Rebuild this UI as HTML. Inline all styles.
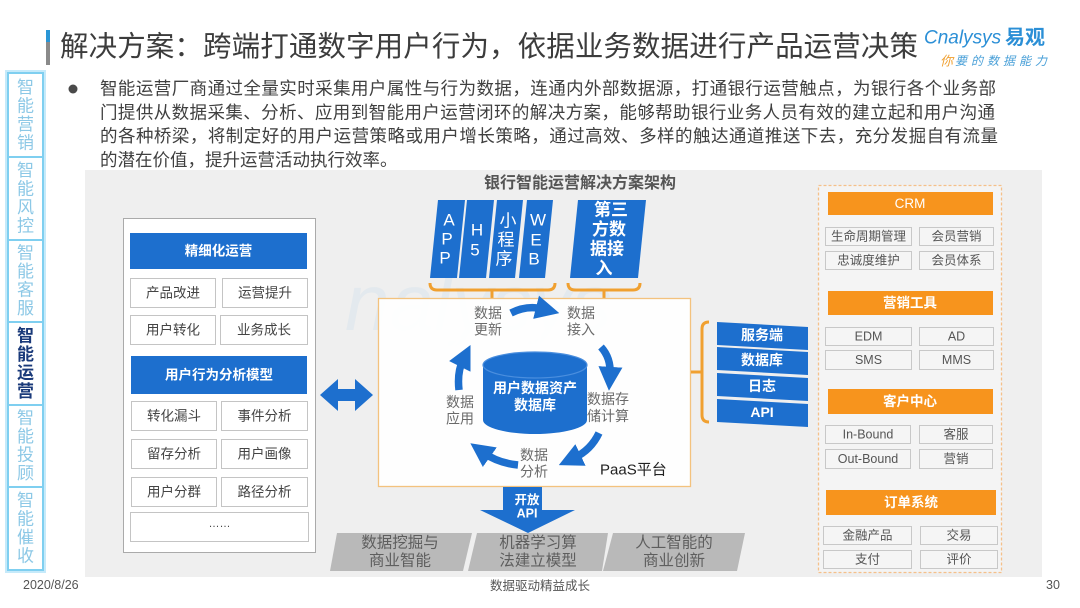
<!DOCTYPE html>
<html><head><meta charset="utf-8">
<style>
html,body{margin:0;padding:0;background:#fff;width:1080px;height:608px;overflow:hidden}
svg{display:block}
text{font-family:"Liberation Sans","Noto Sans CJK SC",sans-serif}
</style></head><body>
<svg width="1080" height="608" viewBox="0 0 1080 608" xmlns="http://www.w3.org/2000/svg">
<defs>
<marker id="ah" viewBox="0 0 10 10" refX="3" refY="5" markerWidth="3.2" markerHeight="3.2" orient="auto" markerUnits="strokeWidth"><path d="M0,0 L10,5 L0,10 z" fill="#1d6fce"/></marker>
</defs>

<!-- Title -->
<rect x="46" y="30" width="4" height="12" fill="#2a96d6"/>
<rect x="46" y="42" width="4" height="23" fill="#8a8a8a"/>
<text x="60" y="47" dominant-baseline="central" font-size="28.5" fill="#3c3c3c" textLength="858" lengthAdjust="spacing">解决方案：跨端打通数字用户行为，依据业务数据进行产品运营决策</text>

<!-- Logo -->
<text x="924" y="38" dominant-baseline="central" font-size="19" font-style="italic" fill="#2b8fd6">Cnalysys</text>
<text x="1005" y="38" dominant-baseline="central" font-size="20" font-weight="bold" fill="#2b8fd6">易观</text>
<text x="940" y="61" dominant-baseline="central" font-size="13" font-style="italic" fill="#f0a030">你</text>
<text x="955" y="61" dominant-baseline="central" font-size="12" font-style="italic" fill="#4aa0d8" textLength="92" lengthAdjust="spacing">要的数据能力</text>

<!-- Paragraph -->
<circle cx="73" cy="89" r="4.5" fill="#4a4a4a"/>
<g font-size="17.5" fill="#404040">
<text x="100" y="88.5" dominant-baseline="central" textLength="896" lengthAdjust="spacing">智能运营厂商通过全量实时采集用户属性与行为数据，连通内外部数据源，打通银行运营触点，为银行各个业务部</text>
<text x="100" y="112.3" dominant-baseline="central" textLength="895" lengthAdjust="spacing">门提供从数据采集、分析、应用到智能用户运营闭环的解决方案，能够帮助银行业务人员有效的建立起和用户沟通</text>
<text x="100" y="136.2" dominant-baseline="central" textLength="898" lengthAdjust="spacing">的各种桥梁，将制定好的用户运营策略或用户增长策略，通过高效、多样的触达通道推送下去，充分发掘自有流量</text>
<text x="100" y="160" dominant-baseline="central">的潜在价值，提升运营活动执行效率。</text>
</g>

<!-- Sidebar -->
<g>
<rect x="7" y="72" width="37" height="499" fill="none" stroke="#c6eafa" stroke-width="4"/>
<g fill="#fff" stroke="#7fcff0" stroke-width="2">
<rect x="8" y="73" width="35" height="84"/>
<rect x="8" y="157" width="35" height="83"/>
<rect x="8" y="240" width="35" height="82"/>
<rect x="8" y="322" width="35" height="83"/>
<rect x="8" y="405" width="35" height="82"/>
<rect x="8" y="487" width="35" height="83"/>
</g>
<g font-size="17" text-anchor="middle" fill="#8cc8e6">
<text x="25.5" y="87.5" dominant-baseline="central">智</text><text x="25.5" y="106" dominant-baseline="central">能</text><text x="25.5" y="124.5" dominant-baseline="central">营</text><text x="25.5" y="143" dominant-baseline="central">销</text>
<text x="25.5" y="170.5" dominant-baseline="central">智</text><text x="25.5" y="189" dominant-baseline="central">能</text><text x="25.5" y="207.5" dominant-baseline="central">风</text><text x="25.5" y="226" dominant-baseline="central">控</text>
<text x="25.5" y="253" dominant-baseline="central">智</text><text x="25.5" y="271.5" dominant-baseline="central">能</text><text x="25.5" y="290" dominant-baseline="central">客</text><text x="25.5" y="308.5" dominant-baseline="central">服</text>
<text x="25.5" y="418" dominant-baseline="central">智</text><text x="25.5" y="436.5" dominant-baseline="central">能</text><text x="25.5" y="455" dominant-baseline="central">投</text><text x="25.5" y="473.5" dominant-baseline="central">顾</text>
<text x="25.5" y="500.5" dominant-baseline="central">智</text><text x="25.5" y="519" dominant-baseline="central">能</text><text x="25.5" y="537.5" dominant-baseline="central">催</text><text x="25.5" y="556" dominant-baseline="central">收</text>
</g>
<g font-size="17" text-anchor="middle" fill="#1a3a7a" font-weight="bold">
<text x="25.5" y="336" dominant-baseline="central">智</text><text x="25.5" y="354.5" dominant-baseline="central">能</text><text x="25.5" y="373" dominant-baseline="central">运</text><text x="25.5" y="391.5" dominant-baseline="central">营</text>
</g>
</g>

<!-- Diagram background -->
<rect x="85" y="170" width="957" height="407" fill="#efefef"/>
<!-- faint watermark -->
<text x="345" y="330" font-size="80" font-style="italic" fill="#e3e9ee">nalysys</text>
<text x="440" y="370" font-size="40" font-style="italic" fill="#e6ebef">你的数据能力</text>
<text x="580" y="183.5" dominant-baseline="central" text-anchor="middle" font-size="16" font-weight="bold" fill="#555">银行智能运营解决方案架构</text>

<!-- Left panel -->
<rect x="123.5" y="218.5" width="192" height="334" fill="#fff" stroke="#aaa" stroke-width="1"/>
<rect x="130" y="233" width="177" height="36" fill="#1d6fce"/>
<text x="218.5" y="251" dominant-baseline="central" text-anchor="middle" font-size="13.5" font-weight="bold" fill="#fff">精细化运营</text>
<rect x="131" y="356" width="176" height="38" fill="#1d6fce"/>
<text x="219" y="375" dominant-baseline="central" text-anchor="middle" font-size="13.5" font-weight="bold" fill="#fff">用户行为分析模型</text>
<g fill="#fff" stroke="#c4c4c4" stroke-width="1">
<rect x="130.5" y="278.5" width="85" height="29"/><rect x="222.5" y="278.5" width="85" height="29"/>
<rect x="130.5" y="315.5" width="85" height="29"/><rect x="220.5" y="315.5" width="87" height="29"/>
<rect x="131.5" y="401.5" width="85" height="29"/><rect x="221.5" y="401.5" width="86" height="29"/>
<rect x="131.5" y="439.5" width="85" height="29"/><rect x="221.5" y="439.5" width="86" height="29"/>
<rect x="131.5" y="477.5" width="85" height="29"/><rect x="221.5" y="477.5" width="86" height="29"/>
<rect x="130.5" y="512.5" width="178" height="29"/>
</g>
<g font-size="13.5" fill="#444" text-anchor="middle">
<text x="173" y="293" dominant-baseline="central">产品改进</text><text x="265" y="293" dominant-baseline="central">运营提升</text>
<text x="173" y="330" dominant-baseline="central">用户转化</text><text x="264" y="330" dominant-baseline="central">业务成长</text>
<text x="174" y="416" dominant-baseline="central">转化漏斗</text><text x="264.5" y="416" dominant-baseline="central">事件分析</text>
<text x="174" y="454" dominant-baseline="central">留存分析</text><text x="264.5" y="454" dominant-baseline="central">用户画像</text>
<text x="174" y="492" dominant-baseline="central">用户分群</text><text x="264.5" y="492" dominant-baseline="central">路径分析</text>
<text x="219.5" y="524" dominant-baseline="central" font-size="11">……</text>
</g>

<!-- Double arrow -->
<polygon points="320,395 338,379 338,389 355,389 355,379 373,395 355,411 355,401 338,401 338,411" fill="#1d6fce"/>

<!-- Channels -->
<g fill="#1d6fce">
<polygon points="438,200 465,200 457,278 430,278"/>
<polygon points="467,200 494,200 486,278 459,278"/>
<polygon points="497,200 523,200 515,278 489,278"/>
<polygon points="527,200 553,200 545,278 519,278"/>
<polygon points="578,200 646,200 638,278 570,278"/>
</g>
<g font-size="17" fill="#fff" text-anchor="middle">
<text x="449" y="220" dominant-baseline="central">A</text><text x="447" y="239" dominant-baseline="central">P</text><text x="445" y="258" dominant-baseline="central">P</text>
<text x="477" y="230" dominant-baseline="central">H</text><text x="475" y="250" dominant-baseline="central">5</text>
<text x="508" y="221" dominant-baseline="central">小</text><text x="506" y="240" dominant-baseline="central">程</text><text x="504" y="259" dominant-baseline="central">序</text>
<text x="538" y="220" dominant-baseline="central">W</text><text x="536" y="240" dominant-baseline="central">E</text><text x="534" y="259" dominant-baseline="central">B</text>
<text x="611" y="210" dominant-baseline="central" font-weight="bold">第三</text>
<text x="609" y="229.5" dominant-baseline="central" font-weight="bold">方数</text>
<text x="607" y="249" dominant-baseline="central" font-weight="bold">据接</text>
<text x="604" y="268.5" dominant-baseline="central" font-weight="bold">入</text>
</g>
<g fill="none" stroke="#f0a030" stroke-width="3">
<path d="M430,283 Q430,290 437,290 L548,290 Q555,290 555,283"/>
<path d="M492,290 L492,298"/>
<path d="M568,283 Q568,290 575,290 L633,290 Q640,290 640,283"/>
<path d="M604,290 L604,298"/>
</g>

<!-- PaaS box -->
<rect x="378.5" y="298.5" width="312" height="188" fill="#fff" fill-opacity="0.93" stroke="#f3c27e" stroke-width="1.3"/>
<!-- cylinder -->
<path d="M483,365 L483,420 A52,14 0 0 0 587,420 L587,365 Z" fill="#1d6fce"/>
<ellipse cx="535" cy="365" rx="52" ry="13" fill="#1d6fce" stroke="#4a8ede" stroke-width="1.2"/>
<text x="535" y="388" dominant-baseline="central" text-anchor="middle" font-size="14" font-weight="bold" fill="#fff">用户数据资产</text>
<text x="535" y="405" dominant-baseline="central" text-anchor="middle" font-size="14" font-weight="bold" fill="#fff">数据库</text>
<!-- cycle arrows -->
<g fill="none" stroke="#1d6fce" stroke-width="7.5" marker-end="url(#ah)">
<path d="M511,313 Q527,305 543,309"/>
<path d="M601,347 Q611,358 610,374"/>
<path d="M599,433 Q591,450 574,458"/>
<path d="M518,465 Q498,463 484,453"/>
<path d="M459,390 Q457,372 463,360"/>
</g>
<g font-size="14" fill="#6a6a6a" text-anchor="middle">
<text x="488" y="313" dominant-baseline="central">数据</text><text x="488" y="329.5" dominant-baseline="central">更新</text>
<text x="581" y="313" dominant-baseline="central">数据</text><text x="581" y="329.5" dominant-baseline="central">接入</text>
<text x="608" y="399" dominant-baseline="central">数据存</text><text x="608" y="416" dominant-baseline="central">储计算</text>
<text x="460" y="402" dominant-baseline="central">数据</text><text x="460" y="418.5" dominant-baseline="central">应用</text>
<text x="534" y="455" dominant-baseline="central">数据</text><text x="534" y="471.5" dominant-baseline="central">分析</text>
</g>
<text x="600" y="470" dominant-baseline="central" font-size="15" fill="#222">PaaS平台</text>

<!-- Right blue bars -->
<g fill="#1d6fce">
<polygon points="717,322 808,327 808,350 717,345"/>
<polygon points="717,347 808,352 808,375 717,370"/>
<polygon points="717,373 808,378 808,401 717,396"/>
<polygon points="717,399 808,404 808,427 717,422"/>
</g>
<g font-size="14" font-weight="bold" fill="#fff" text-anchor="middle">
<text x="762" y="335" dominant-baseline="central">服务端</text>
<text x="762" y="360" dominant-baseline="central">数据库</text>
<text x="762" y="386" dominant-baseline="central">日志</text>
<text x="762" y="412" dominant-baseline="central">API</text>
</g>
<g fill="none" stroke="#f0a030" stroke-width="3">
<path d="M709,322 Q702,322 702,329 L702,415 Q702,422 709,422"/>
<path d="M691,372 L702,372"/>
</g>

<!-- Right panel -->
<rect x="818.5" y="185.5" width="183" height="387" fill="#f4f4f4" stroke="#f5c08a" stroke-width="1.3" stroke-dasharray="3,2"/>
<g fill="#f7941d">
<rect x="828" y="192" width="165" height="23"/>
<rect x="828" y="291" width="165" height="24"/>
<rect x="828" y="389" width="165" height="25"/>
<rect x="826" y="490" width="170" height="25"/>
</g>
<g font-size="13.5" font-weight="bold" fill="#fff" text-anchor="middle">
<text x="910" y="203.5" dominant-baseline="central" font-weight="normal">CRM</text>
<text x="910" y="303" dominant-baseline="central">营销工具</text>
<text x="910" y="401.5" dominant-baseline="central">客户中心</text>
<text x="911" y="502.5" dominant-baseline="central">订单系统</text>
</g>
<g fill="#f5f5f5" stroke="#c8c8c8" stroke-width="1">
<rect x="825.5" y="227.5" width="86" height="18"/><rect x="919.5" y="227.5" width="74" height="18"/>
<rect x="825.5" y="251.5" width="86" height="18"/><rect x="919.5" y="251.5" width="74" height="18"/>
<rect x="825.5" y="327.5" width="86" height="18"/><rect x="919.5" y="327.5" width="74" height="18"/>
<rect x="825.5" y="350.5" width="86" height="19"/><rect x="919.5" y="350.5" width="74" height="19"/>
<rect x="825.5" y="425.5" width="85" height="18"/><rect x="919.5" y="425.5" width="73" height="18"/>
<rect x="825.5" y="449.5" width="85" height="19"/><rect x="919.5" y="449.5" width="73" height="19"/>
<rect x="823.5" y="526.5" width="88" height="18"/><rect x="920.5" y="526.5" width="77" height="18"/>
<rect x="823.5" y="550.5" width="88" height="18"/><rect x="920.5" y="550.5" width="77" height="18"/>
</g>
<g font-size="12.5" fill="#555" text-anchor="middle">
<text x="868.5" y="236.5" dominant-baseline="central">生命周期管理</text><text x="956.5" y="236.5" dominant-baseline="central">会员营销</text>
<text x="868.5" y="260.5" dominant-baseline="central">忠诚度维护</text><text x="956.5" y="260.5" dominant-baseline="central">会员体系</text>
<text x="868.5" y="336.5" dominant-baseline="central">EDM</text><text x="956.5" y="336.5" dominant-baseline="central">AD</text>
<text x="868.5" y="360" dominant-baseline="central">SMS</text><text x="956.5" y="360" dominant-baseline="central">MMS</text>
<text x="868" y="434.5" dominant-baseline="central">In-Bound</text><text x="956" y="434.5" dominant-baseline="central">客服</text>
<text x="868" y="459" dominant-baseline="central">Out-Bound</text><text x="956" y="459" dominant-baseline="central">营销</text>
<text x="867.5" y="535.5" dominant-baseline="central">金融产品</text><text x="959" y="535.5" dominant-baseline="central">交易</text>
<text x="867.5" y="559.5" dominant-baseline="central">支付</text><text x="959" y="559.5" dominant-baseline="central">评价</text>
</g>

<!-- Open API arrow -->
<polygon points="503,487 542,487 542,510 575,510 528,533 480,510 503,510" fill="#1d6fce"/>
<text x="527" y="500" dominant-baseline="central" text-anchor="middle" font-size="12.5" font-weight="bold" fill="#fff">开放</text>
<text x="527" y="513.5" dominant-baseline="central" text-anchor="middle" font-size="12.5" font-weight="bold" fill="#fff">API</text>

<!-- Bottom parallelograms -->
<g fill="#b9b9b9">
<polygon points="337,533 472,533 463,571 330,571"/>
<polygon points="477,533 608,533 602,571 468,571"/>
<polygon points="613,533 745,533 737,571 603,571"/>
</g>
<g font-size="15.5" fill="#5e5e5e" text-anchor="middle">
<text x="400" y="543" dominant-baseline="central">数据挖掘与</text><text x="400" y="561" dominant-baseline="central">商业智能</text>
<text x="538" y="543" dominant-baseline="central">机器学习算</text><text x="538" y="561" dominant-baseline="central">法建立模型</text>
<text x="674" y="543" dominant-baseline="central">人工智能的</text><text x="674" y="561" dominant-baseline="central">商业创新</text>
</g>

<!-- Footer -->
<text x="23" y="585" dominant-baseline="central" font-size="12.5" fill="#555">2020/8/26</text>
<text x="540" y="586" dominant-baseline="central" text-anchor="middle" font-size="12.5" fill="#555">数据驱动精益成长</text>
<text x="1053" y="585" dominant-baseline="central" text-anchor="middle" font-size="12.5" fill="#555">30</text>
</svg>
</body></html>
